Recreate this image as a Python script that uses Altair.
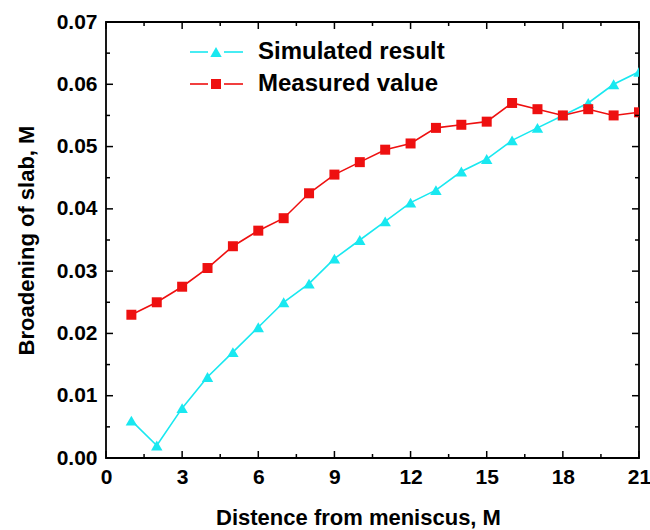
import altair as alt
import pandas as pd

# ---- data ----
distance = list(range(1, 22))
simulated = [0.006, 0.002, 0.008, 0.013, 0.017, 0.021, 0.025, 0.028, 0.032, 0.035,
             0.038, 0.041, 0.043, 0.046, 0.048, 0.051, 0.053, 0.055, 0.057, 0.060, 0.062]
measured = [0.023, 0.025, 0.0275, 0.0305, 0.034, 0.0365, 0.0385, 0.0425, 0.0455, 0.0475,
            0.0495, 0.0505, 0.053, 0.0535, 0.054, 0.057, 0.056, 0.055, 0.056, 0.055, 0.0555]
series_names = ["Simulated result", "Measured value"]
x_major = [0, 3, 6, 9, 12, 15, 18, 21]
x_minor = [1.5, 4.5, 7.5, 10.5, 13.5, 16.5, 19.5]
y_major = [0.00, 0.01, 0.02, 0.03, 0.04, 0.05, 0.06, 0.07]
y_minor = [0.005, 0.015, 0.025, 0.035, 0.045, 0.055, 0.065]

W, H = 533, 436
FONT = "Liberation Sans"
CYAN = "#19E8F0"
RED = "#EE1010"
TRI_SIZE = 130
SQ_SIZE = 100

xs = alt.Scale(domain=[0, 21], nice=False, zero=False)
ys = alt.Scale(domain=[0, 0.07], nice=False, zero=False)

sim_df = pd.DataFrame({"x": distance, "y": simulated})
mea_df = pd.DataFrame({"x": distance, "y": measured})

x_axis = alt.Axis(values=x_major, ticks=False, domain=False, grid=False,
                  labelFont=FONT, labelFontWeight="bold", labelFontSize=21,
                  labelColor="black", labelPadding=8, labelFlush=False,
                  title="Distence from meniscus, M", titleFont=FONT,
                  titleFontWeight="bold", titleFontSize=22, titleColor="black",
                  titleX=252, titleY=66, titleBaseline="alphabetic")
y_axis = alt.Axis(values=y_major, format=".2f", ticks=False, domain=False, grid=False,
                  labelFont=FONT, labelFontWeight="bold", labelFontSize=21,
                  labelColor="black", labelPadding=9, labelFlush=False,
                  title="Broadening of slab, M", titleFont=FONT,
                  titleFontWeight="bold", titleFontSize=22, titleColor="black",
                  titleX=-73, titleY=218, titleAngle=270, titleAlign="center",
                  titleBaseline="alphabetic")

X = alt.X("x:Q", scale=xs, axis=x_axis, title="Distence from meniscus, M")
Y = alt.Y("y:Q", scale=ys, axis=y_axis, title="Broadening of slab, M")

sim_line = alt.Chart(sim_df).mark_line(color=CYAN, strokeWidth=1.6, clip=True).encode(x=X, y=Y)
sim_pts = alt.Chart(sim_df).mark_point(shape="triangle-up", filled=True, opacity=1,
                                       color=CYAN, size=TRI_SIZE, clip=True).encode(x=X, y=Y)
mea_line = alt.Chart(mea_df).mark_line(color=RED, strokeWidth=1.6, clip=True).encode(x=X, y=Y)
mea_pts = alt.Chart(mea_df).mark_point(shape="square", filled=True, opacity=1,
                                       color=RED, size=SQ_SIZE, clip=True).encode(x=X, y=Y)

# ---- inward ticks on all four sides ----
def xticks(vals, length):
    d = pd.DataFrame({"x": vals})
    bottom = alt.Chart(d).mark_rule(color="black", strokeWidth=1.5).encode(
        x=X, y=alt.value(H), y2=alt.value(H - length))
    top = alt.Chart(d).mark_rule(color="black", strokeWidth=1.5).encode(
        x=X, y=alt.value(0), y2=alt.value(length))
    return [bottom, top]

def yticks(vals, length):
    d = pd.DataFrame({"y": vals})
    left = alt.Chart(d).mark_rule(color="black", strokeWidth=1.5).encode(
        y=Y, x=alt.value(0), x2=alt.value(length))
    right = alt.Chart(d).mark_rule(color="black", strokeWidth=1.5).encode(
        y=Y, x=alt.value(W), x2=alt.value(W - length))
    return [left, right]

tick_layers = xticks(x_major, 7) + xticks(x_minor, 4) + yticks(y_major, 7) + yticks(y_minor, 4)

# ---- manual legend ----
def legend_entry(name, color, shape, size, ypos):
    d = pd.DataFrame({"label": [name]})
    seg1 = alt.Chart(d).mark_rule(color=color, strokeWidth=1.6).encode(
        x=alt.value(84), x2=alt.value(102), y=alt.value(ypos))
    seg2 = alt.Chart(d).mark_rule(color=color, strokeWidth=1.6).encode(
        x=alt.value(118), x2=alt.value(137), y=alt.value(ypos))
    mk = alt.Chart(d).mark_point(shape=shape, filled=True, opacity=1, color=color,
                                 size=size).encode(x=alt.value(110), y=alt.value(ypos))
    tx = alt.Chart(d).mark_text(align="left", baseline="middle", font=FONT,
                                fontWeight="bold", fontSize=24, color="black").encode(
        x=alt.value(152), y=alt.value(ypos), text="label:N")
    return [seg1, seg2, mk, tx]

legend_layers = (legend_entry(series_names[0], CYAN, "triangle-up", TRI_SIZE, 30)
                 + legend_entry(series_names[1], RED, "square", SQ_SIZE, 62))

chart = alt.layer(
    sim_line, mea_line, sim_pts, mea_pts, *tick_layers, *legend_layers
).properties(
    width=W, height=H,
    autosize=alt.AutoSizeParams(type="none"),
    padding={"left": 106, "top": 22, "right": 11, "bottom": 72},
    background="white",
).configure_view(stroke="black", strokeWidth=1.8)

chart.save("out.html", embed_options={"renderer": "svg", "actions": False})
